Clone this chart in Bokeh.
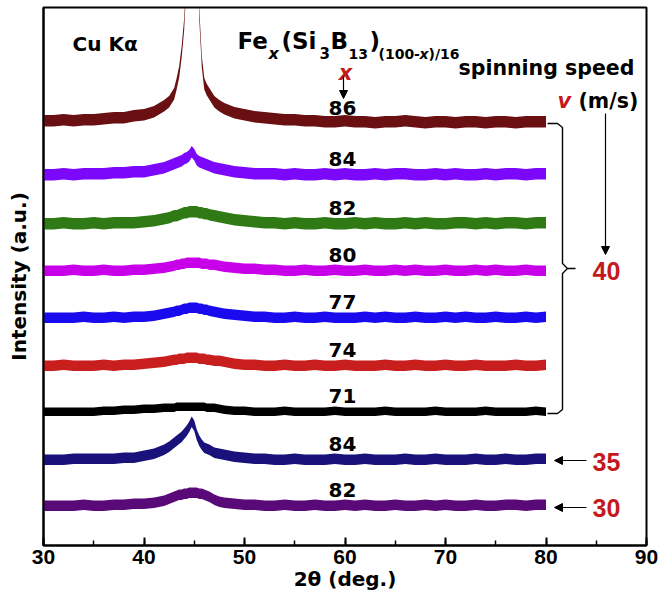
from bokeh.plotting import figure
from bokeh.models import Label, Arrow, NormalHead, Range1d, SingleIntervalTicker, FixedTicker
from bokeh.core.properties import value
from bokeh.embed import file_html
from bokeh.resources import INLINE

# 2-theta sampling grid (deg.), denser across the Fe reflection near 45 deg
two_theta = [30, 31, 32, 33, 34, 35, 36, 37, 38, 39, 40, 41, 42,
             42.5, 43,
             43.25, 43.5, 43.75, 44, 44.25, 44.5, 44.75, 45, 45.25, 45.5, 45.75, 46, 46.25, 46.5,
             47, 47.5, 48,
             49, 50, 51, 52, 53, 54, 55, 56, 57, 58, 59, 60, 61, 62, 63, 64,
             65, 66, 67, 68, 69, 70, 71, 72, 73, 74, 75, 76, 77, 78, 79, 80]

# Intensity above each pattern's own baseline (a.u.)
i_86_40 = [3, 3, 4, 3, 4, 4, 5, 6, 6, 8, 9, 12, 18,
           22, 30,
           40, 52, 72, 100, 150, 200, 240, 240, 190, 110, 62, 40, 34, 30,
           22, 18, 15,
           11, 9, 7, 6, 5, 4, 4, 3, 3, 2, 2, 3, 2, 2, 1, 2,
           2, 3, 2, 1, 2, 2, 1, 2, 2, 1, 2, 2, 1, 2, 2, 2]
i_84_40 = [0, 0, 1, 0, 1, 1, 1, 2, 2, 3, 3, 5, 7,
           9, 11,
           12, 13, 14, 16, 17, 19, 23, 20, 15, 13, 12, 11, 10, 9,
           7, 6, 5,
           3, 2, 1, 1, 1, 0, 1, 0, 0, 1, 0, 1, 0, 0, 1, 0,
           1, 1, 0, 0, 1, 0, 1, 0, 0, 1, 0, 1, 1, 0, 1, 1]
i_82_40 = [0, 0, 1, 0, 0, 1, 0, 1, 1, 1, 2, 3, 5,
           6, 8,
           8, 9, 10, 11, 11, 12, 12, 12, 12, 11, 11, 10, 10, 9,
           8, 7, 6,
           4, 3, 2, 1, 1, 0, 1, 0, 0, 1, 0, 0, 1, 0, 1, 0,
           0, 1, 0, 1, 0, 0, 1, 1, 0, 1, 0, 1, 1, 0, 1, 1]
i_80_40 = [0, 0, 0, 1, 0, 0, 1, 0, 0, 1, 1, 2, 3,
           4, 5,
           6, 6, 7, 7, 8, 8, 8, 8, 8, 8, 7, 7, 7, 6,
           6, 5, 4,
           3, 2, 2, 1, 1, 0, 0, 1, 0, 0, 1, 0, 0, 1, 0, 0,
           1, 0, 1, 0, 0, 1, 0, 0, 1, 0, 1, 0, 0, 1, 0, 0]
i_77_40 = [0, 0, 0, 0, 1, 0, 0, 1, 0, 1, 1, 2, 4,
           5, 6,
           7, 7, 8, 9, 9, 10, 10, 10, 10, 9, 9, 8, 8, 7,
           6, 5, 4,
           3, 2, 1, 1, 0, 0, 1, 0, 0, 1, 0, 0, 0, 1, 0, 1,
           0, 0, 1, 0, 0, 1, 0, 1, 0, 0, 1, 0, 0, 1, 0, 1]
i_74_40 = [0, 0, 1, 0, 0, 0, 1, 0, 1, 1, 2, 3, 4,
           5, 6,
           6, 7, 7, 7, 8, 8, 8, 8, 8, 7, 7, 7, 6, 6,
           5, 5, 4,
           2, 1, 1, 0, 0, 1, 0, 0, 1, 0, 0, 1, 0, 0, 0, 1,
           0, 0, 1, 0, 0, 1, 0, 0, 1, 0, 0, 0, 1, 0, 0, 1]
i_71_40 = [0, 0, 0, 0, 0, 0, 1, 1, 2, 2, 3, 3, 4,
           4, 4,
           5, 5, 5, 5, 5, 5, 5, 5, 5, 5, 5, 5, 4, 4,
           4, 3, 2,
           1, 1, 0, 0, 0, 1, 0, 0, 0, 0, 1, 0, 0, 0, 0, 1,
           0, 0, 0, 0, 1, 0, 0, 0, 0, 1, 0, 0, 0, 0, 1, 0]
i_84_35 = [0, 0, 0, 1, 1, 1, 1, 1, 2, 2, 4, 6, 10,
           13, 17,
           19, 21, 23, 26, 29, 33, 38, 34, 25, 19, 15, 12, 11, 10,
           7, 6, 5,
           3, 2, 1, 1, 0, 0, 1, 0, 0, 0, 1, 0, 0, 1, 0, 0,
           0, 1, 0, 0, 1, 0, 0, 0, 1, 0, 0, 1, 0, 0, 1, 1]
i_82_30 = [0, 0, 0, 0, 1, 0, 0, 1, 1, 2, 2, 3, 5,
           7, 9,
           10, 11, 11, 12, 12, 13, 13, 13, 13, 12, 12, 11, 10, 9,
           6, 4, 3,
           2, 1, 1, 0, 0, 1, 0, 0, 1, 0, 0, 1, 0, 1, 0, 0,
           1, 0, 0, 1, 0, 1, 0, 0, 1, 0, 0, 1, 1, 0, 1, 1]

patterns = [i_86_40, i_84_40, i_82_40, i_80_40, i_77_40, i_74_40, i_71_40, i_84_35, i_82_30]
fe_content = ["86", "84", "82", "80", "77", "74", "71", "84", "82"]
stack_offset = [421, 370, 321, 274, 227, 179, 133, 85, 39]
colors = ["#6A1012", "#7B08FA", "#2F7A14", "#C800EA", "#1A0AEE",
          "#C81E1E", "#000000", "#18127A", "#5A0A78"]
half_width = [5, 5, 5, 4.5, 4.5, 4.5, 3.5, 4.5, 4.5]
speed_labels = ["40", "35", "30"]

for s in patterns:
    assert len(s) == len(two_theta)

W, H = 660, 597
L, R, T, B = 43, 14, 7, 52
FRAME_W, FRAME_H = W - L - R, H - T - B

p = figure(width=W, height=H, x_range=Range1d(30, 90), y_range=Range1d(0, FRAME_H),
           output_backend="svg", toolbar_location=None,
           min_border_left=L, min_border_right=R, min_border_top=T, min_border_bottom=B)
p.background_fill_color = "white"
p.border_fill_color = "white"
p.outline_line_color = "black"
p.outline_line_width = 2
p.xgrid.visible = False
p.ygrid.visible = False

xa = p.xaxis[0]
xa.ticker = SingleIntervalTicker(interval=10, num_minor_ticks=2)
xa.axis_line_width = 2
xa.major_tick_in = 8
xa.major_tick_out = 0
xa.minor_tick_in = 5
xa.minor_tick_out = 0
xa.major_tick_line_width = 2
xa.minor_tick_line_width = 1.5
xa.major_label_standoff = 4
xa.major_label_text_font = "Liberation Sans"
xa.major_label_text_font_style = "bold"
xa.major_label_text_font_size = "21px"
xa.major_label_text_color = "black"
xa.axis_label = "2\u03b8 (deg.)"
xa.axis_label_standoff = 0
xa.axis_label_text_font = "DejaVu Sans"
xa.axis_label_text_font_style = "bold"
xa.axis_label_text_font_size = "20px"
xa.axis_label_text_color = "black"

ya = p.yaxis[0]
ya.ticker = FixedTicker(ticks=[])
ya.axis_line_width = 2
ya.major_tick_in = 0
ya.major_tick_out = 0
ya.minor_tick_in = 0
ya.minor_tick_out = 0
ya.major_label_standoff = 0
ya.axis_label = "Intensity (a.u.)"
ya.axis_label_standoff = 13
ya.axis_label_text_font = "DejaVu Sans"
ya.axis_label_text_font_style = "bold"
ya.axis_label_text_font_size = "20px"
ya.axis_label_text_color = "black"


def fx(px):
    return 30 + (px - L) * 60 / FRAME_W


def fy(py):
    return (H - B) - py


# stacked diffraction patterns drawn as thick noise bands
for vals, off, col, hw in zip(patterns, stack_offset, colors, half_width):
    mid = [off + v for v in vals]
    p.varea(x=two_theta, y1=[m - hw for m in mid], y2=[m + hw + 1.5 for m in mid],
            fill_color=col, fill_alpha=1.0)

# composition labels above each pattern
p.text(x=[fx(342)] * len(fe_content), y=[o + 16.5 for o in stack_offset], text=fe_content,
       text_font=value("DejaVu Sans"), text_font_style="bold", text_font_size="20px",
       text_align="center", text_baseline="middle", text_color="black")

RED = "#C41A1E"


def lab(px, py, text, size, font="DejaVu Sans", style="bold", color="black",
        align="left", baseline="alphabetic"):
    p.add_layout(Label(x=fx(px), y=fy(py), text=text, text_font=font,
                       text_font_style=style, text_font_size=size, text_color=color,
                       text_align=align, text_baseline=baseline))


lab(72, 43, "Cu K\u03b1", "20px")

# Fe_x(Si_3B_13)_(100-x)/16
lab(237, 40, "Fe", "23px")
lab(268, 53, "x", "16px", style="bold italic")
lab(281, 40, "(Si", "23px")
lab(319, 52, "3", "15px")
lab(330, 40, "B", "23px")
lab(348, 53, "13", "14px")
lab(369, 40, ")", "23px")
lab(378, 53, "(100-", "14px")
lab(419, 53, "x", "14px", style="bold italic")
lab(428, 53, ")/16", "14px")

lab(345, 72, "x", "21px", style="bold italic", color=RED, align="center")
lab(458, 67, "spinning speed", "20.5px")
lab(557, 100, "v", "21px", style="bold italic", color=RED)
lab(578, 100, "(m/s)", "20.5px")

for text, py in zip(speed_labels, [270, 461, 507]):
    lab(606, py, text, "25px", font="Liberation Sans", color=RED, align="center",
        baseline="middle")


# arrows
def arrow(px0, py0, px1, py1):
    p.add_layout(Arrow(end=NormalHead(size=8, fill_color="black", line_color="black",
                                      line_width=1),
                       x_start=fx(px0), y_start=fy(py0), x_end=fx(px1), y_end=fy(py1),
                       line_color="black", line_width=1.2))


arrow(343, 76, 343, 98)
arrow(605, 113, 605, 254)
arrow(586, 460, 554, 460)
arrow(586, 507, 554, 507)

# brace grouping the 40 m/s patterns
bx = [547, 557, 562, 562, 567, 575, 567, 562, 562, 557, 547]
by = [123, 123, 127, 263, 268, 268, 268, 273, 409, 413, 413]
p.line(x=[fx(v) for v in bx], y=[fy(v) for v in by], line_color="black", line_width=1.4)

open("out.html", "w").write(file_html(p, INLINE))
